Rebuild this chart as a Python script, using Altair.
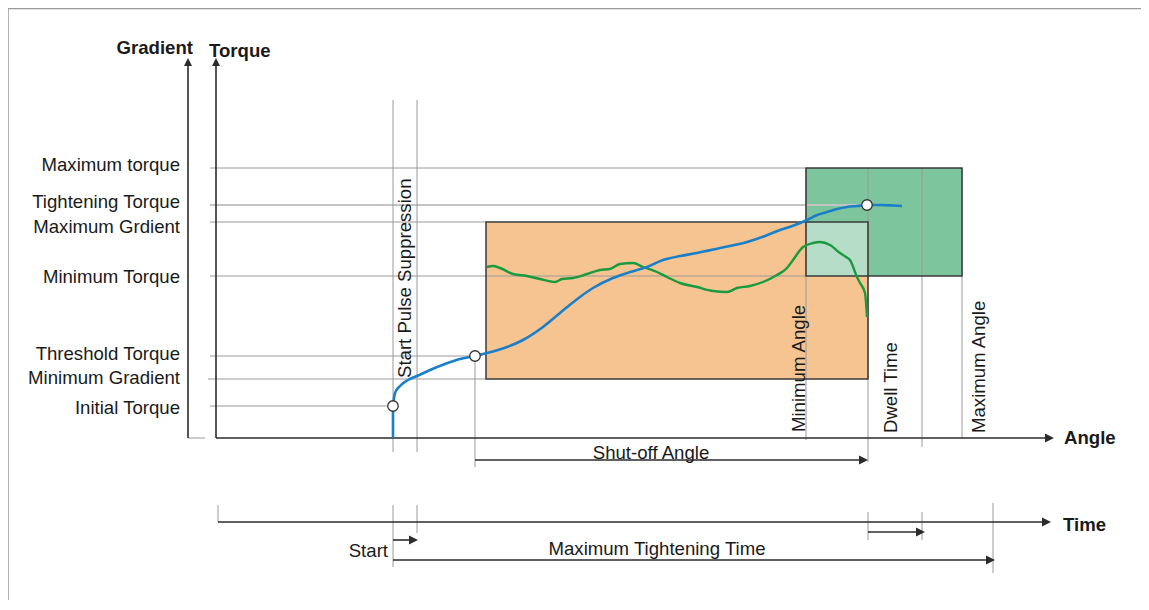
import altair as alt
import pandas as pd

# ---------------- values (angle units on x, torque units on y) ----------------
# torque levels shown on the left
level_names = ["Maximum torque", "Tightening Torque", "Maximum Grdient", "Minimum Torque",
               "Threshold Torque", "Minimum Gradient", "Initial Torque"]
level_values = [270, 233, 216, 162, 82, 59, 32]
level_line_end = [590, 651, 270, 590, 259, 270, 177]
level_label_t = [273.5, 236, 211, 161, 84, 60, 30]

# angle marks
A_START, A_PULSE_END, A_THRESHOLD, A_WINDOW = 177, 201, 259, 270
A_MIN_ANGLE, A_SHUTOFF, A_DWELL_END, A_MAX_ANGLE, A_MAX_TIME = 590, 652, 706, 746, 777

# rows of the time section (below the angle axis)
T_SHUTOFF_ROW, T_TIME_AXIS, T_DWELL_ROW, T_START_ROW, T_MAXTIME_ROW = -22, -84, -94, -102, -122

# torque curve
torque_angle = [177, 179, 184, 192, 201, 214, 229, 244, 259, 271, 291, 307, 327, 344, 360, 377,
                397, 414, 431, 447, 464, 481, 504, 531, 549, 564, 579, 591, 601, 611, 621, 631,
                641, 651, 664, 677, 686]
torque_value = [32, 45, 52, 58, 62, 68, 74, 79, 82, 85, 91, 98, 111, 125, 138, 150,
                160, 166, 171, 178, 182, 185, 190, 196, 202, 208, 213, 218, 223, 226, 229, 231,
                232, 233, 233, 232.5, 232]

# gradient curve
grad_angle = [271, 277, 284, 297, 311, 324, 339, 346, 357, 371, 384, 394, 404, 417, 427, 441,
              451, 464, 481, 497, 511, 521, 534, 547, 561, 571, 577, 587, 597, 604, 614, 624,
              630, 634, 641, 644, 649, 651]
grad_value = [171, 172, 170, 164, 162, 159, 156, 159, 160, 164, 168, 169, 174, 175, 171, 166,
              161, 155, 151, 147, 146, 150, 152, 156, 163, 170, 178, 191, 195, 196, 193, 185,
              181, 178, 161, 155, 145, 121]

# marked points
point_angle = [A_START, A_THRESHOLD, A_SHUTOFF - 1]
point_value = [32, 82, 233]

# ---------------- styling ----------------
FONT = "Liberation Sans"
FS = 18.6
DARK = "#2b2b2b"
GRAY = "#9a9a9a"
W, H = 1133, 592
X_MIN, X_MAX = -208, 925
Y_MIN, Y_MAX = -162, 430
xs = alt.Scale(domain=[X_MIN, X_MAX], nice=False, zero=False)
ys = alt.Scale(domain=[Y_MIN, Y_MAX], nice=False, zero=False)


def X(f="a"):
    return alt.X(f"{f}:Q", scale=xs, axis=None)


def Y(f="t"):
    return alt.Y(f"{f}:Q", scale=ys, axis=None)


def segs(rows, color, width):
    df = pd.DataFrame(rows, columns=["a", "t", "a2", "t2"])
    return alt.Chart(df).mark_rule(color=color, strokeWidth=width).encode(
        x=X(), y=Y(), x2="a2:Q", y2="t2:Q")


# frame
frame = segs([(X_MIN, Y_MIN, X_MIN, Y_MAX - 0.5), (X_MIN, Y_MAX - 0.5, X_MAX, Y_MAX - 0.5)],
             "#9a9a9a", 1.5)

# box fills
boxes = pd.DataFrame({
    "a": [A_WINDOW, A_MIN_ANGLE, A_MIN_ANGLE],
    "a2": [A_SHUTOFF, A_MAX_ANGLE, A_SHUTOFF],
    "t": [59, 162, 162],
    "t2": [216, 270, 216],
    "c": ["#F5C491", "#7CC59D", "#B5DDC8"],
})
box_fill = alt.Chart(boxes).mark_rect(strokeWidth=0).encode(
    x=X(), x2="a2:Q", y=Y(), y2="t2:Q", fill=alt.Fill("c:N", scale=None))
box_stroke = alt.Chart(boxes.iloc[:2]).mark_rect(fillOpacity=0, fill="white", stroke="#3a3a3a",
                                                 strokeWidth=1.5).encode(
    x=X(), x2="a2:Q", y=Y(), y2="t2:Q")

# reference lines
ref_rows = [(-8 if n == "Minimum Gradient" else -6, v, e, v)
            for n, v, e in zip(level_names, level_values, level_line_end) if n != "Tightening Torque"]
ref_lines = segs(ref_rows, GRAY, 1)
tight_line = segs([(-6, 233, 651, 233)], "#c4c4c4", 2)

vert_rows = [
    (A_START, 338, A_START, -14), (A_PULSE_END, 338, A_PULSE_END, -14),
    (A_THRESHOLD, 82, A_THRESHOLD, -29), (A_MIN_ANGLE, 270, A_MIN_ANGLE, -2),
    (A_SHUTOFF, 270, A_SHUTOFF, -24), (A_DWELL_END, 270, A_DWELL_END, -9),
    (A_MAX_ANGLE, 270, A_MAX_ANGLE, 0),
    (A_START, -67, A_START, -129), (A_PULSE_END, -67, A_PULSE_END, -95),
    (A_SHUTOFF, -74, A_SHUTOFF, -102), (A_DWELL_END, -74, A_DWELL_END, -102),
    (A_MAX_TIME, -65, A_MAX_TIME, -135),
    (2, -67, 2, T_TIME_AXIS), (-28, 0, -11, 0),
]
vert_lines = segs(vert_rows, GRAY, 1)

# axes and arrows
axis_rows = [
    (0, 0, 0, 376), (-28, 0, -28, 376), (0, 0, 830, 0), (2, T_TIME_AXIS, 828, T_TIME_AXIS),
    (A_THRESHOLD, T_SHUTOFF_ROW, A_SHUTOFF - 3, T_SHUTOFF_ROW),
    (A_START, T_START_ROW, A_PULSE_END - 2, T_START_ROW),
    (A_SHUTOFF, T_DWELL_ROW, A_DWELL_END, T_DWELL_ROW),
    (A_START, T_MAXTIME_ROW, A_MAX_TIME - 2, T_MAXTIME_ROW),
]
axes = segs(axis_rows, DARK, 1.6)

heads_right = pd.DataFrame({
    "a": [838, 835, A_SHUTOFF, A_PULSE_END + 1, A_DWELL_END + 3, A_MAX_TIME + 2],
    "t": [0, T_TIME_AXIS, T_SHUTOFF_ROW, T_START_ROW, T_DWELL_ROW, T_MAXTIME_ROW],
})
heads_up = pd.DataFrame({"a": [0, -28], "t": [380, 380]})
RIGHT = "M0,0L-1,-0.5L-1,0.5Z"
UP = "M0,0L-0.5,1L0.5,1Z"
arrow_r = alt.Chart(heads_right).mark_point(shape=RIGHT, filled=True, color=DARK, size=324,
                                            opacity=1).encode(x=X(), y=Y())
arrow_u = alt.Chart(heads_up).mark_point(shape=UP, filled=True, color=DARK, size=256,
                                         opacity=1).encode(x=X(), y=Y())

# curves
blue_df = pd.DataFrame({"a": torque_angle, "t": torque_value, "o": range(len(torque_angle))})
blue = alt.Chart(blue_df).mark_line(color="#1a7fc9", strokeWidth=2.6, interpolate="monotone").encode(
    x=X(), y=Y(), order="o:Q")
blue_start = segs([(A_START, 0, A_START, 32)], "#1a7fc9", 2.6)
green_df = pd.DataFrame({"a": grad_angle, "t": grad_value, "o": range(len(grad_angle))})
green = alt.Chart(green_df).mark_line(color="#1a9a3e", strokeWidth=2.4, interpolate="monotone").encode(
    x=X(), y=Y(), order="o:Q")

pts = alt.Chart(pd.DataFrame({"a": point_angle, "t": point_value})).mark_point(
    shape="circle", filled=True, fill="white", stroke="#333", strokeWidth=1.3, size=110, opacity=1
).encode(x=X(), y=Y())

# texts
lab_df = pd.DataFrame({"txt": level_names, "a": [-36] * 7, "t": level_label_t})
labels = alt.Chart(lab_df).mark_text(align="right", baseline="middle", font=FONT, fontSize=FS,
                                     color="#1a1a1a").encode(x=X(), y=Y(), text="txt:N")

bold_df = pd.DataFrame({
    "txt": ["Torque", "Angle", "Time"],
    "a": [-7, 848, 847], "t": [387.5, 0, -87]})
bold = alt.Chart(bold_df).mark_text(align="left", baseline="middle", font=FONT, fontSize=FS,
                                    fontWeight="bold", color="#1a1a1a").encode(x=X(), y=Y(), text="txt:N")
grad_lab = alt.Chart(pd.DataFrame({"txt": ["Gradient"], "a": [-23], "t": [390]})).mark_text(
    align="right", baseline="middle", font=FONT, fontSize=FS, fontWeight="bold",
    color="#1a1a1a").encode(x=X(), y=Y(), text="txt:N")

rot_df = pd.DataFrame({
    "txt": ["Start Pulse Suppression", "Minimum Angle", "Dwell Time", "Maximum Angle"],
    "a": [189, 583, 675, 763], "t": [60, 6, 5, 5]})
rot = alt.Chart(rot_df).mark_text(angle=270, align="left", baseline="middle", font=FONT,
                                  fontSize=FS, color="#1a1a1a").encode(x=X(), y=Y(), text="txt:N")

center_df = pd.DataFrame({"txt": ["Shut-off Angle", "Maximum Tightening Time"],
                          "a": [435, 441], "t": [-14.5, -111]})
center = alt.Chart(center_df).mark_text(align="center", baseline="middle", font=FONT, fontSize=FS,
                                        color="#1a1a1a").encode(x=X(), y=Y(), text="txt:N")
start_lab = alt.Chart(pd.DataFrame({"txt": ["Start"], "a": [172], "t": [-113]})).mark_text(
    align="right", baseline="middle", font=FONT, fontSize=FS, color="#1a1a1a").encode(
    x=X(), y=Y(), text="txt:N")

chart = alt.layer(
    frame, box_fill, ref_lines, tight_line, vert_lines, box_stroke, axes, arrow_r, arrow_u,
    green, blue, blue_start, pts, labels, bold, grad_lab, rot, center, start_lab
).properties(width=W, height=H, padding=0, autosize="none").configure_view(stroke=None)

chart.save("out.html", embed_options={"renderer": "svg", "actions": False})
